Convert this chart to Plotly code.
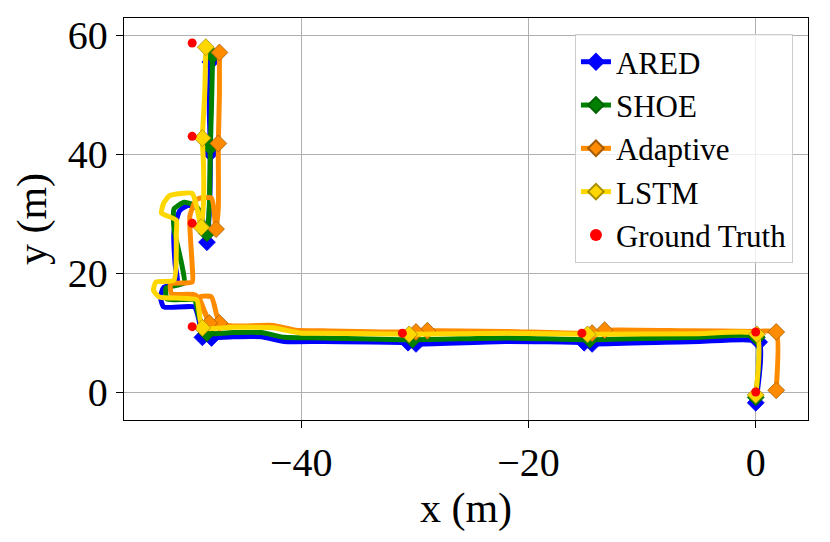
import plotly.graph_objects as go

# Estimated trajectories (x, y in metres)
ared_x = [0.0, 0.3, -5.0, -14.4, -15.1, -22.0, -29.9, -30.6, -38.0, -41.5, -43.5, -46.0, -47.9, -48.7,
          -49.0, -49.4, -52.1, -52.4, -52.1, -50.9, -51.1, -51.2, -50.7, -49.9, -48.9, -48.3, -48.1,
          -48.0, -48.1, -48.0]
ared_y = [-1.8, 8.4, 8.5, 8.1, 8.3, 8.5, 8.1, 8.3, 8.5, 8.5, 9.3, 9.3, 9.1, 9.2,
          12.1, 14.3, 14.3, 16.0, 17.6, 18.2, 21.5, 27.0, 30.5, 31.4, 30.5, 25.2, 30.0,
          40.2, 48.0, 55.5]
ared_cx = [0.0, 0.3, -14.4, -15.1, -29.9, -30.6, -47.9, -48.7, -48.3, -48.0, -48.0]
ared_cy = [-1.8, 8.4, 8.1, 8.3, 8.1, 8.3, 9.1, 9.2, 25.2, 40.2, 55.5]

shoe_x = [0.0, 0.1, -5.0, -14.6, -22.0, -30.2, -38.0, -41.5, -43.5, -46.0, -48.3, -49.0, -49.4,
          -51.8, -51.9, -50.3, -50.5, -51.2, -51.2, -50.3, -49.2, -48.3, -48.1, -48.0, -47.9, -47.8]
shoe_y = [-0.9, 9.2, 9.2, 8.8, 9.1, 8.8, 9.1, 9.2, 10.0, 10.0, 9.9, 12.6, 15.5,
          15.6, 17.5, 18.3, 21.3, 27.5, 30.8, 31.9, 31.2, 26.7, 31.0, 41.2, 48.0, 56.6]
shoe_cx = [0.0, 0.1, -14.6, -30.2, -48.3, -48.3, -48.0, -47.8]
shoe_cy = [-0.9, 9.2, 8.8, 8.8, 9.9, 26.7, 41.2, 56.6]

adapt_x = [1.8, 1.8, 0.0, -6.0, -13.3, -14.4, -22.0, -28.9, -29.9, -38.0, -40.5, -42.5, -46.0, -47.2,
           -47.9, -48.9, -48.1, -49.3, -51.4, -51.5, -49.6, -49.6, -49.8, -49.2, -47.9, -47.5, -47.3,
           -47.3, -47.2, -47.2]
adapt_y = [0.3, 10.1, 10.2, 10.3, 10.4, 9.9, 10.2, 10.3, 10.1, 10.3, 10.4, 11.2, 11.1, 11.6,
           16.0, 16.0, 11.6, 16.3, 16.5, 18.2, 18.5, 21.3, 29.6, 32.4, 32.6, 27.4, 31.0,
           41.8, 50.0, 57.1]
adapt_cx = [1.8, 1.8, -13.3, -14.4, -28.9, -29.9, -47.2, -48.1, -47.5, -47.3, -47.2]
adapt_cy = [0.3, 10.1, 10.4, 9.9, 10.3, 10.1, 11.6, 11.6, 27.4, 41.8, 57.1]

lstm_x = [0.0, 0.1, -5.0, -14.8, -22.0, -30.5, -38.0, -40.0, -42.5, -46.0, -48.7, -49.0, -49.2,
          -52.5, -53.0, -52.8, -51.2, -51.0, -51.0, -52.3, -52.1, -51.6, -49.6, -49.2, -48.8, -48.6,
          -48.6, -48.7, -48.5, -48.4]
lstm_y = [-0.5, 9.7, 9.8, 9.7, 9.9, 9.7, 9.9, 9.9, 10.8, 10.9, 10.8, 13.7, 15.5,
          16.0, 17.1, 18.5, 18.8, 26.6, 28.9, 30.1, 31.8, 33.0, 33.4, 31.1, 27.7, 32.0,
          38.0, 42.7, 50.0, 58.0]
lstm_cx = [0.0, 0.1, -14.8, -30.5, -48.7, -48.8, -48.7, -48.4]
lstm_cy = [-0.5, 9.7, 9.7, 9.7, 10.8, 27.7, 42.7, 58.0]

gt_x = [0.0, 0.0, -15.3, -31.1, -49.6, -49.6, -49.6, -49.6]
gt_y = [0.0, 10.1, 9.9, 9.9, 11.0, 28.4, 43.0, 58.7]

FONT = "Liberation Serif"

methods = [
    ("ARED", ared_x, ared_y, ared_cx, ared_cy, "#0000ff", "#0000ff"),
    ("SHOE", shoe_x, shoe_y, shoe_cx, shoe_cy, "#008000", "#006400"),
    ("Adaptive", adapt_x, adapt_y, adapt_cx, adapt_cy, "#ff8c00", "#a35a00"),
    ("LSTM", lstm_x, lstm_y, lstm_cx, lstm_cy, "#ffd700", "#a88c00"),
]

fig = go.Figure()

for i, (name, x, y, cx, cy, color, edge) in enumerate(methods):
    marker = dict(symbol="diamond", size=13, color=color, line=dict(color=edge, width=0.8))
    fig.add_trace(go.Scatter(x=x, y=y, mode="lines",
                             line=dict(color=color, width=5, shape="spline", smoothing=0.5),
                             showlegend=False, hoverinfo="skip"))
    fig.add_trace(go.Scatter(x=cx, y=cy, mode="markers", marker=marker, showlegend=False))
    # legend-only entry with line + marker
    fig.add_trace(go.Scatter(x=[None], y=[None], mode="lines+markers", name=name,
                             line=dict(color=color, width=3.5), marker=marker,
                             legendgroup=name, legendrank=i + 1))

fig.add_trace(go.Scatter(x=gt_x, y=gt_y, mode="markers", name="Ground Truth",
                         marker=dict(color="red", size=9), legendgroup="gt", legendrank=5))

axis = dict(showgrid=True, gridcolor="#b0b0b0", gridwidth=1.3, zeroline=False,
            showline=True, linecolor="black", linewidth=1.3, mirror=True,
            ticks="outside", ticklen=7, tickwidth=1.3, tickcolor="black",
            tickfont=dict(family=FONT, size=40, color="black"))

# page body has an 8px margin, so the plot margins are shifted to compensate
fig.update_layout(
    width=830, height=542,
    margin=dict(l=116, r=30, t=10, b=130, autoexpand=False),
    plot_bgcolor="white", paper_bgcolor="white",
    xaxis=dict(axis, range=[-55.6, 4.6], tickvals=[-40, -20, 0],
               title=dict(text="x (m)", font=dict(family=FONT, size=42, color="black"), standoff=6)),
    yaxis=dict(axis, range=[-4.7, 62.9], tickvals=[0, 20, 40, 60],
               title=dict(text="y (m)", font=dict(family=FONT, size=42, color="black"), standoff=8)),
    legend=dict(x=0.978, y=0.96, xanchor="right", yanchor="top",
                bgcolor="rgba(255,255,255,0.8)", bordercolor="#cccccc", borderwidth=1,
                font=dict(family=FONT, size=31, color="black"),
                itemsizing="constant", tracegroupgap=0),
    showlegend=True,
)

fig.write_html("out.html")
